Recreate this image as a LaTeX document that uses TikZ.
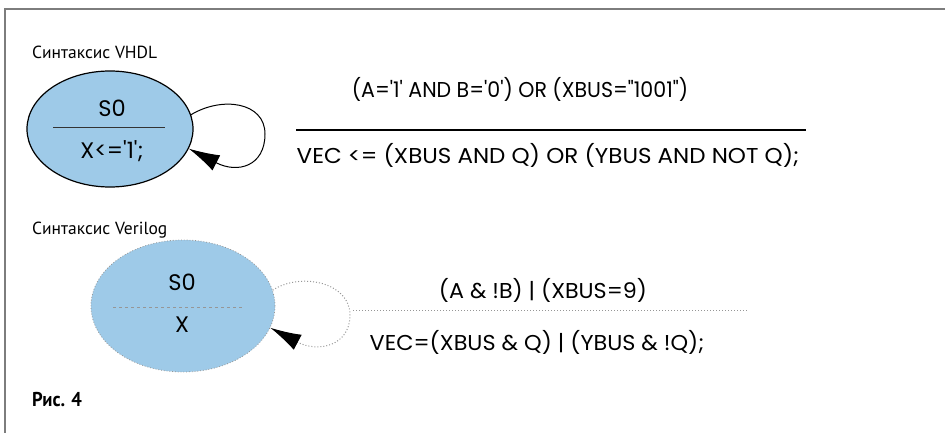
\documentclass[tikz,border=0pt]{standalone}
\usepackage{fontspec}
\setmainfont{PT Sans}
\newfontfamily\codefont{Poppins}
\usetikzlibrary{arrows.meta,shapes.geometric}
\definecolor{stateblue}{RGB}{158,202,232}
\definecolor{framegray}{RGB}{125,125,125}
\definecolor{dotgray}{RGB}{150,150,150}
\begin{document}
\begin{tikzpicture}[x=1pt,y=-1pt,
  caption/.style={anchor=west,inner sep=0,font=\fontsize{17.5}{20}\selectfont},
  figlabel/.style={anchor=west,inner sep=0,font=\bfseries\fontsize{20}{24}\selectfont},
  code/.style={inner sep=0,font=\codefont\fontsize{21.5}{24}\selectfont},
  statetext/.style={inner sep=0,font=\codefont\fontsize{22.5}{26}\selectfont},
  state/.style={ellipse,fill=stateblue,inner sep=0},
  loophead/.style={-{Latex[length=31pt,width=17pt,color=black]}},
]
\useasboundingbox (0,0) rectangle (945,433);
% frame (open at right and bottom)
\draw[framegray,line width=1.6pt] (5,433) -- (5,9) -- (945,9);

% ---------- VHDL ----------
\node[caption] (capv) at (32,52) {Синтаксис VHDL};
\node[state,draw=black,line width=1.2pt,minimum width=166pt,minimum height=116pt] (vh) at (110,129) {};
\node[statetext] (vhs) at (112,108) {S0};
\node[statetext] (vhx) at (112,151) {X<='1';};
\draw[black!80,line width=0.9pt] (53,127) -- (165,127);
\coordinate (vhloop) at (265,134);
\draw[line width=1pt,loophead] (vh.10) .. controls (222,96) and (265,102) .. (vhloop)
  .. controls (265,166) and (238,174) .. (vh.-14);
\node[code] (vhc) at (520,89) {\scalebox{0.955}[1]{(A='1' AND B='0') OR (XBUS="1001")}};
\draw[black,line width=1.2pt] (296,130) -- (806,130);
\node[code] (vha) at (548,155) {\scalebox{1.07}[1]{VEC <= (XBUS AND Q) OR (YBUS AND NOT Q);}};

% ---------- Verilog ----------
\node[caption] (capg) at (32,230) {Синтаксис Verilog};
\node[state,draw=dotgray,dotted,line width=0.8pt,minimum width=184pt,minimum height=132pt] (vg) at (183,306) {};
\node[statetext] (vgs) at (182,282) {S0};
\node[statetext] (vgx) at (182,325) {X};
\draw[dotgray,dashed,line width=0.7pt] (113,307) -- (242,307);
\coordinate (vgloop) at (350,315);
\draw[dotgray,dotted,line width=1pt,loophead] (vg.10) .. controls (300,272) and (350,282) .. (vgloop)
  .. controls (350,346) and (318,353) .. (vg.-14);
\node[code] (vgc) at (543,290) {\scalebox{1.035}[1]{(A \& !B) | (XBUS=9)}};
\draw[dotgray,dotted,line width=1pt] (353,310) -- (748,310);
\node[code] (vga) at (537,342) {\scalebox{1.04}[1]{VEC=(XBUS \& Q) | (YBUS \& !Q);}};

\node[figlabel] (fig) at (32,400) {\scalebox{0.93}[1]{Рис. 4}};
\end{tikzpicture}
\end{document}
